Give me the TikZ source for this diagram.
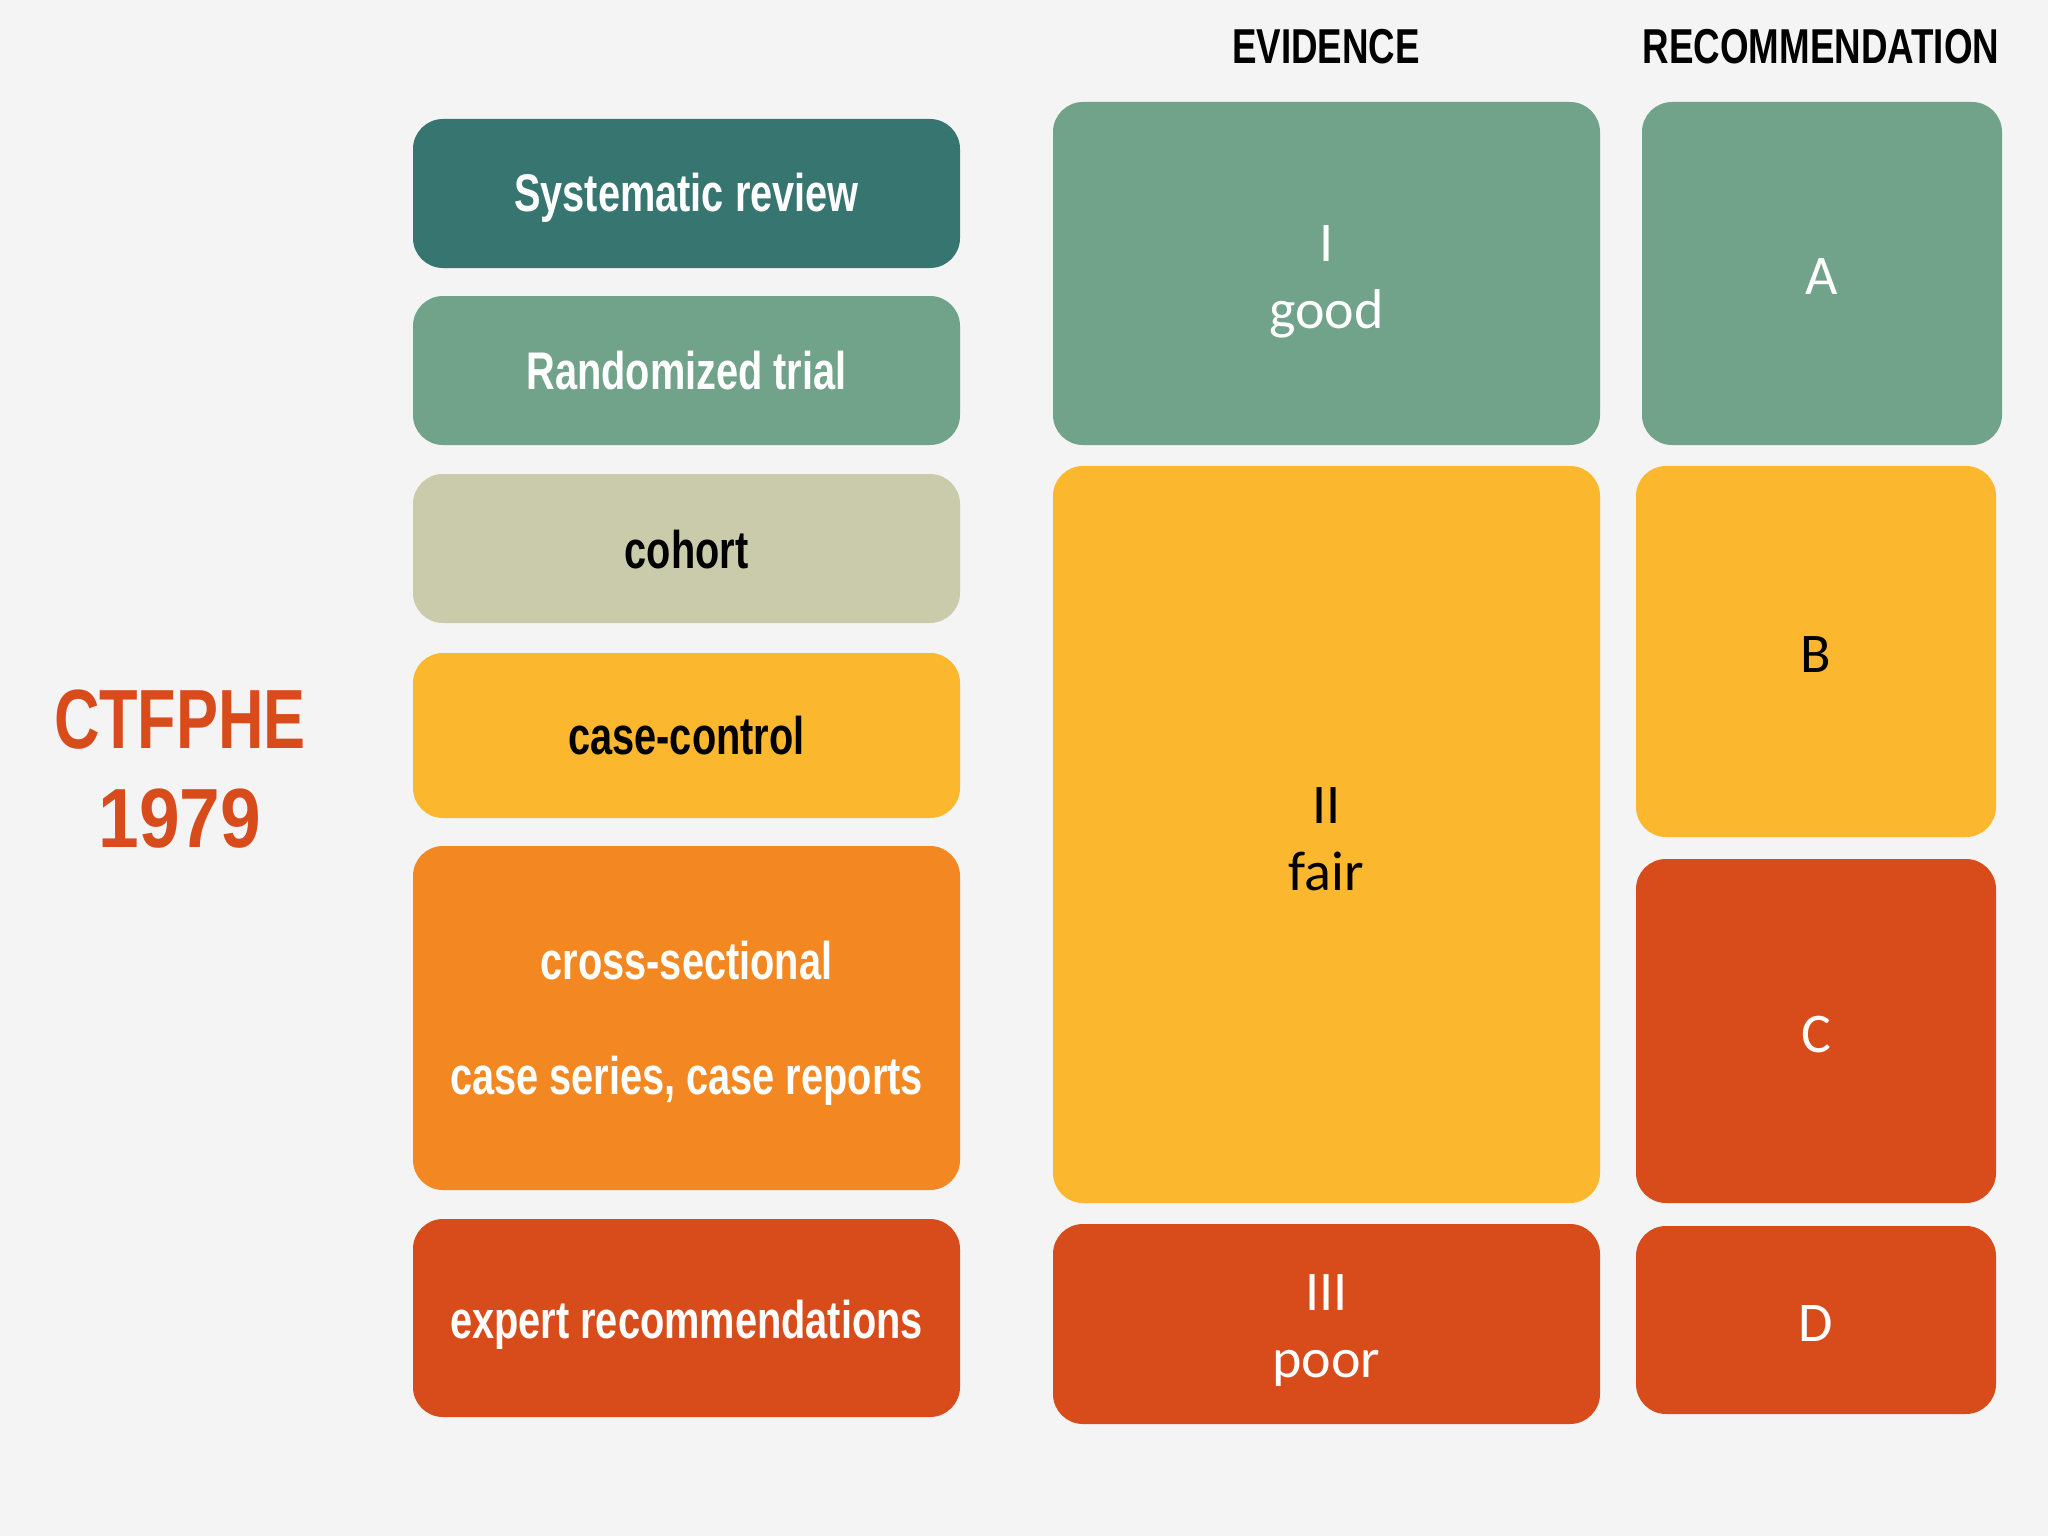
\documentclass[tikz,border=0pt]{standalone}
\usepackage{fontspec}
\newfontfamily\condfont[FakeStretch=0.75]{Liberation Sans}
\newfontfamily\wcondfont[FakeStretch=0.87]{Liberation Sans}
\newfontfamily\calfont{Carlito}
\definecolor{bgc}{RGB}{244,244,244}
\definecolor{teal1}{RGB}{55,117,112}
\definecolor{sage}{RGB}{113,162,138}
\definecolor{beige}{RGB}{201,203,170}
\definecolor{yell}{RGB}{251,184,46}
\definecolor{oran}{RGB}{243,136,35}
\definecolor{redo}{RGB}{216,75,27}
\begin{document}
\begin{tikzpicture}[x=1pt,y=-1pt,
  box/.style={rectangle, rounded corners=30pt, inner sep=0pt},
  leftbox/.style={box, minimum width=547pt},
  evbox/.style={box, minimum width=547pt},
  recbox/.style={box, minimum width=360pt},
  ltext/.style={inner sep=0pt, align=center, font=\condfont\bfseries\fontsize{53}{115}\selectfont},
  rtext/.style={inner sep=0pt, align=center, font=\calfont\fontsize{56}{67}\selectfont},
  head/.style={inner sep=0pt, font=\condfont\bfseries\fontsize{49}{55}\selectfont},
  bigt/.style={inner sep=0pt, text=redo, font=\condfont\bfseries\fontsize{84}{99}\selectfont}]
\fill[bgc] (0,0) rectangle (2048,1536);
\useasboundingbox (0,0) rectangle (2048,1536);
% headings
\node[head] (hev) at (1326,47) {EVIDENCE};
\node[head] (hrec) at (1821,47) {RECOMMENDATION};
% title
\node[bigt] (t1) at (180,720) {CTFPHE};
\node[bigt, font=\wcondfont\bfseries\fontsize{84}{99}\selectfont] (t2) at (180,819) {1979};
% left column
\node[leftbox, fill=teal1, minimum height=149pt] (sys) at (686.5,193.5) {};
\node[leftbox, fill=sage, minimum height=149pt] (rand) at (686.5,370.5) {};
\node[leftbox, fill=beige, minimum height=149pt] (coh) at (686.5,548.5) {};
\node[leftbox, fill=yell, minimum height=165pt] (cc) at (686.5,735.5) {};
\node[leftbox, fill=oran, minimum height=344pt] (cross) at (686.5,1018) {};
\node[leftbox, fill=redo, minimum height=198pt] (exp) at (686.5,1318) {};
\node[ltext, text=white] (sysT) at ([yshift=-4pt]sys.center) {Systematic review};
\node[ltext, text=white] (randT) at (rand.center) {Randomized trial};
\node[ltext, text=black] (cohT) at ([yshift=-1pt]coh.center) {cohort};
\node[ltext, text=black] (ccT) at (cc.center) {case-control};
\node[ltext, text=white] (crossT) at ([yshift=-5pt]cross.center) {cross-sectional\\case series, case reports};
\node[ltext, text=white] (expT) at ([yshift=-6.5pt]exp.center) {expert recommendations};
% evidence column
\node[evbox, fill=sage, minimum height=343pt] (ev1) at (1326.5,273.5) {};
\node[evbox, fill=yell, minimum height=737pt] (ev2) at (1326.5,834.5) {};
\node[evbox, fill=redo, minimum height=200pt] (ev3) at (1326.5,1324) {};
\node[rtext, text=white] (ev1T) at ([yshift=-8pt]ev1.center) {I\\good};
\node[rtext, text=black] (ev2T) at ([yshift=-5pt]ev2.center) {II\\fair};
\node[rtext, text=white] (ev3T) at ([yshift=-6.5pt]ev3.center) {III\\poor};
% recommendation column
\node[recbox, fill=sage, minimum height=343pt] (ra) at (1822,273.5) {};
\node[recbox, fill=yell, minimum height=371pt] (rb) at (1816,651.5) {};
\node[recbox, fill=redo, minimum height=344pt] (rc) at (1816,1031) {};
\node[recbox, fill=redo, minimum height=188pt] (rd) at (1816,1320) {};
\node[rtext, text=white] (raT) at ([yshift=-3pt]ra.center) {A};
\node[rtext, text=black] (rbT) at ([yshift=-3pt]rb.center) {B};
\node[rtext, text=white] (rcT) at ([yshift=-4pt]rc.center) {C};
\node[rtext, text=white] (rdT) at ([yshift=-4pt]rd.center) {D};
\end{tikzpicture}
\end{document}
